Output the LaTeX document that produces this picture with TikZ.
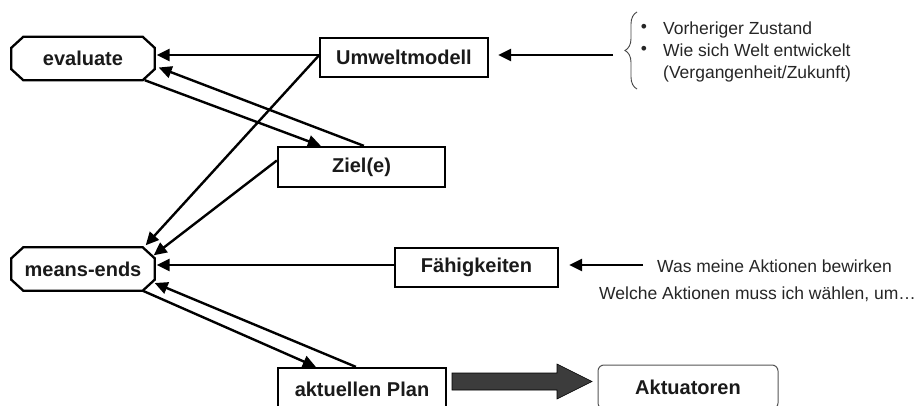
\documentclass[tikz,border=0pt]{standalone}
\usepackage{fontspec}
\setmainfont{Liberation Sans}
\usetikzlibrary{arrows.meta,calc,decorations.pathreplacing}
\definecolor{ink}{HTML}{1A1A1A}
\definecolor{txt}{HTML}{262626}
\definecolor{bigarrow}{HTML}{3C3C3C}
\definecolor{softframe}{HTML}{555555}
\begin{document}
\begin{tikzpicture}[x=1pt,y=-1pt,
  lbl/.style={font=\fontsize{20}{22}\selectfont\bfseries, text=ink, inner sep=0pt},
  box/.style={lbl, draw=black, line width=2.3pt},
  octo/.style={lbl, minimum width=143pt, minimum height=43pt},
  arr/.style={line width=2.4pt, -{Triangle[length=13pt,width=12pt]}},
  note/.style={font=\fontsize{17.5}{20}\selectfont, text=txt, inner sep=0pt}]
\useasboundingbox[fill=white] (0,0) rectangle (915,406);

% boxes
\node[octo] (ev) at (83,58.5) {evaluate};
\node[octo] (me) at (83,269) {means-ends};
\node[box, minimum width=168pt, minimum height=39pt] (um) at (404,57.5) {Umweltmodell};
\node[box, minimum width=167pt, minimum height=40pt] (zi) at (361.5,167) {Ziel(e)};
\node[box, minimum width=163pt, minimum height=39pt] (fa) at (476.5,267.5) {Fähigkeiten};
\node[box, minimum width=168pt, minimum height=42pt] (pl) at (362,389) {aktuellen Plan};
\node[lbl, draw=softframe, line width=1pt, rounded corners=6pt,
      minimum width=180pt, minimum height=44pt] (ak) at (688,387) {Aktuatoren};

% octagonal outlines of the two process nodes
\foreach \n in {ev,me}
  \draw[line width=2.3pt, line join=miter]
    ([xshift=12pt]\n.north west) -- ([xshift=-12pt]\n.north east)
    -- ([yshift=-11pt]\n.north east) -- ([yshift=11pt]\n.south east)
    -- ([xshift=-12pt]\n.south east) -- ([xshift=12pt]\n.south west)
    -- ([yshift=11pt]\n.south west) -- ([yshift=-11pt]\n.north west) -- cycle;

% connectors
\draw[arr] ([yshift=2.5pt]um.west) -- ([xshift=2pt,yshift=3.5pt]ev.east);
\draw[arr] ([xshift=-10pt]ev.south east) -- ([xshift=44pt]zi.north west);
\draw[arr] ([xshift=87pt]zi.north west) -- ([xshift=4pt,yshift=-9pt]ev.east);
\draw[arr] ([yshift=2pt]um.west) -- ([xshift=-9pt,yshift=2pt]me.north east);
\draw[arr] ([yshift=6.5pt]zi.west) -- ([xshift=-1pt,yshift=-8pt]me.north east);
\draw[arr] ([yshift=2.5pt]fa.west) -- ([xshift=2pt,yshift=4pt]me.east);
\draw[arr] ([xshift=-12pt]me.south east) -- ([xshift=39pt]pl.north west);
\draw[arr] ([xshift=79pt]pl.north west) -- ([xshift=0pt,yshift=-14pt]me.east);

% wide arrow from plan to actuators
\coordinate (pa) at (452,381.5);
\coordinate (pb) at (592,381.5);
\draw[fill=bigarrow, draw=black, line width=0.6pt, line join=miter]
  ($(pa)+(0,-8.5)$) -- ($(pb)+(-35,-8.5)$) -- ($(pb)+(-35,-17.5)$) -- (pb)
  -- ($(pb)+(-35,17.5)$) -- ($(pb)+(-35,8.5)$) -- ($(pa)+(0,8.5)$) -- cycle;

% model annotations
\coordinate (bt) at (613,55);
\coordinate (br1) at (637,89);
\coordinate (br2) at (637,12);
\draw[arr] (bt) -- ([xshift=9pt,yshift=2.5pt]um.east);
\draw[decorate, decoration={brace, amplitude=12pt}, line width=0.9pt, draw=gray!55!black] (br1) -- (br2);
\node[note] (d1) at (644,28.5) {•};
\node[note] (d2) at (644,50.5) {•};
\node[note, anchor=base west] (t1) at (663,35) {Vorheriger Zustand};
\node[note, anchor=base west] (t2) at (663,57) {Wie sich Welt entwickelt};
\node[note, anchor=base west] (t3) at (663,79) {(Vergangenheit/Zukunft)};

% capability annotations
\coordinate (fn) at (643,265);
\draw[arr] (fn) -- ([xshift=10pt,yshift=2.5pt]fa.east);
\node[note, anchor=base west] (w1) at (657,272) {Was meine Aktionen bewirken};
\node[note, anchor=base west] (w2) at (599,299) {Welche Aktionen muss ich wählen, um…};
\end{tikzpicture}
\end{document}
